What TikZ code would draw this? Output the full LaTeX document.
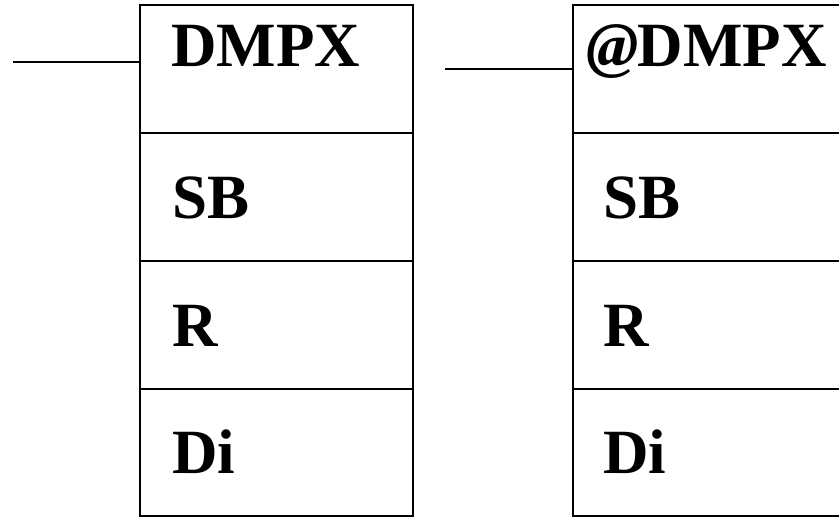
\documentclass[tikz,border=0pt]{standalone}
\usepackage{fontspec}
\setmainfont{Liberation Serif}
\begin{document}
\begin{tikzpicture}[x=1pt,y=-1pt,
  cell/.style={draw,line width=1.4pt,minimum width=273pt,inner sep=0pt,outer sep=0pt},
  lbl/.style={anchor=base west,inner sep=0pt,font=\fontsize{63}{63}\selectfont\bfseries},
  wire/.style={line width=1.4pt}]
\clip (0,0) rectangle (839,518);
% left block
\node[cell,minimum height=128pt] (l1) at (276.5,69) {};
\node[cell,minimum height=128pt] (l2) at (276.5,197) {};
\node[cell,minimum height=128pt] (l3) at (276.5,325) {};
\node[cell,minimum height=127pt] (l4) at (276.5,452.5) {};
\node[lbl] (lt1) at (171,67) {DMPX};
\node[lbl] (lt2) at (172,219) {SB};
\node[lbl] (lt3) at (172,347) {R};
\node[lbl] (lt4) at (172,474) {Di};
% right block
\node[cell,minimum height=128pt] (r1) at (709.5,69) {};
\node[cell,minimum height=128pt] (r2) at (709.5,197) {};
\node[cell,minimum height=128pt] (r3) at (709.5,325) {};
\node[cell,minimum height=127pt] (r4) at (709.5,452.5) {};
\node[lbl] (rt1) at (586,67) {\textit{@}\kern-1pt DMPX};
\node[lbl] (rt2) at (603,219) {SB};
\node[lbl] (rt3) at (603,347) {R};
\node[lbl] (rt4) at (603,474) {Di};
% wires
\coordinate (lw) at (13,62);
\coordinate (rw) at (445,69);
\draw[wire] (lw) -- (lw -| l1.west);
\draw[wire] (rw) -- (rw -| r1.west);
\end{tikzpicture}
\end{document}
